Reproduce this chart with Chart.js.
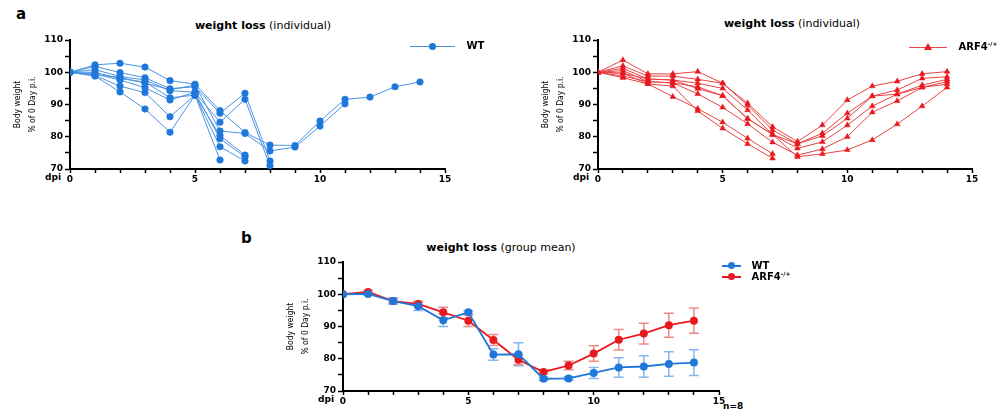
<!DOCTYPE html>
<html>
<head>
<meta charset="utf-8">
<script src="https://cdn.jsdelivr.net/npm/chart.js@4"></script>
<style>
  body { margin: 0; background: #fff; width: 1002px; height: 412px; position: relative; overflow: hidden; font-family: "DejaVu Sans", sans-serif; }
  .box { position: absolute; }
  .txt { position: absolute; white-space: nowrap; color: #000; }
  .title { font-size: 11px; transform: translateX(-50%); }
  .panel { font-size: 15px; font-weight: bold; }
  .small { font-size: 9px; font-weight: bold; }
  .leg { position: absolute; font-size: 10px; font-weight: bold; white-space: nowrap; }
  .leg sup { font-size: 6px; }
</style>
</head>
<body>
<div class="txt panel" style="left:16px;top:5px">a</div>
<div class="txt panel" style="left:241px;top:229px">b</div>

<div class="txt title" style="left:263px;top:19px"><b>weight loss</b> (individual)</div>
<div class="txt title" style="left:792px;top:17px"><b>weight loss</b> (individual)</div>
<div class="txt title" style="left:501px;top:241px"><b>weight loss</b> (group mean)</div>

<div class="txt small" style="left:45px;top:172px">dpi</div>
<div class="txt small" style="left:573px;top:172px">dpi</div>
<div class="txt small" style="left:318px;top:394px">dpi</div>
<div class="txt small" style="left:723px;top:401px">n=8</div>

<div class="box" style="left:0;top:30px;width:480px;height:164px"><canvas id="wtChart"></canvas></div>
<div class="box" style="left:528px;top:30px;width:472px;height:164px"><canvas id="arfChart"></canvas></div>
<div class="box" style="left:273px;top:252px;width:481px;height:164px"><canvas id="meanChart"></canvas></div>

<script>
const days = [0, 1, 2, 3, 4, 5, 6, 7, 8, 9, 10, 11, 12, 13, 14];
const xTickLabels = [0, 5, 10, 15];
const yTickLabels = [70, 80, 90, 100, 110];

// WT, each mouse (% of day 0 body weight), stops when the mouse was lost
const wtMouse1 = [100, 102.3, 102.8, 101.6, 97.4, 96.3, 88.1, 81.3, 77.4, 77.3, 84.9, 91.6, 92.3, 95.5, 97.0];
const wtMouse2 = [100, 101.8, 99.9, 98.3, 94.9, 95.5, 87.3, 93.5, 72.5];
const wtMouse3 = [100, 100.8, 98.7, 97.6, 94.3, 93.8, 84.5, 91.6, 71.0];
const wtMouse4 = [100, 100.0, 98.0, 97.0, 92.1, 92.9, 80.4, 74.3];
const wtMouse5 = [100, 99.5, 97.6, 95.2, 91.4, 93.8, 79.4, 73.8];
const wtMouse6 = [100, 99.0, 95.7, 93.7, 86.2, 92.9, 76.9, 72.5];
const wtMouse7 = [100, 98.8, 93.9, 88.6, 81.4, 92.9, 72.8];
const wtMouse8 = [100, 99.3, 98.4, 96.6, 94.6, 96.0, 81.8, 81.0, 75.6, 76.8, 83.3, 90.2];

// ARF4-/+, each mouse
const arfMouse1 = [100, 103.8, 99.5, 99.5, 100.2, 96.6, 90.4, 83.1, 78.5, 83.6, 91.4, 95.7, 97.2, 99.5, 100.2];
const arfMouse2 = [100, 102.0, 98.8, 98.8, 97.8, 96.6, 89.8, 82.1, 77.8, 81.1, 87.3, 92.6, 94.5, 98.1, 98.6];
const arfMouse3 = [100, 101.2, 97.9, 97.6, 96.6, 95.0, 88.3, 80.7, 77.8, 80.3, 85.7, 92.6, 93.2, 96.0, 97.8];
const arfMouse4 = [100, 100.5, 97.1, 96.7, 95.5, 92.7, 85.6, 80.7, 76.4, 78.4, 83.6, 89.5, 93.2, 95.3, 97.1];
const arfMouse5 = [100, 99.7, 96.4, 92.4, 88.7, 84.5, 79.5, 74.7];
const arfMouse6 = [100, 98.3, 96.4, 95.7, 88.0, 82.6, 77.8, 73.3];
const arfMouse7 = [100, 98.8, 97.1, 96.7, 93.3, 89.1, 84.0, 78.3, 74.3, 76.2, 80.0, 87.6, 91.1, 95.3, 96.3];
const arfMouse8 = [100, 99.7, 97.9, 97.6, 94.9, 92.7, 85.6, 80.7, 73.8, 74.7, 75.9, 79.0, 83.9, 89.5, 95.3];

// group mean +/- SEM
const wtMean = [100, 100.1, 97.9, 96.3, 91.9, 94.4, 81.3, 81.4, 73.8, 73.9, 75.6, 77.3, 77.6, 78.4, 78.8];
const wtSem = [0, 0.4, 1.0, 1.3, 1.9, 0.5, 1.8, 3.6, 0.5, 0.5, 1.7, 3.0, 3.3, 3.8, 4.0];
const arfMean = [100, 100.7, 97.9, 97.0, 94.4, 91.8, 85.8, 79.7, 75.9, 77.9, 81.6, 85.9, 87.8, 90.4, 91.8];
const arfSem = [0, 0.5, 0.6, 0.8, 1.6, 1.8, 1.7, 1.5, 0.5, 1.3, 2.4, 3.2, 3.2, 3.7, 3.9];

const BLUE = '#1f77d9';
const BLUE_LINE = '#4a93e4';
const RED = '#e8191e';
const RED_LINE = '#e94343';

function toPoints(vals) {
  return vals.map((v, i) => ({ x: days[i], y: v }));
}

const tickFont = { family: 'DejaVu Sans', size: 9, weight: 'bold' };

function makeScales() {
  return {
    x: {
      type: 'linear', min: 0, max: 15,
      afterBuildTicks: s => { s.ticks = days.concat([15]).map(v => ({ value: v })); },
      afterFit: s => { s.height = 25; },
      ticks: { autoSkip: false, maxRotation: 0, color: '#000', font: tickFont, padding: 1,
               callback: v => xTickLabels.includes(v) ? String(v) : '' },
      grid: { drawOnChartArea: false, drawTicks: true, tickLength: 4, tickWidth: 1.5, tickColor: '#000' },
      border: { display: true, color: '#000', width: 2 }
    },
    y: {
      min: 70, max: 110,
      afterBuildTicks: s => { s.ticks = [70, 75, 80, 85, 90, 95, 100, 105, 110].map(v => ({ value: v })); },
      afterFit: s => { s.width = 70; },
      ticks: { autoSkip: false, color: '#000', font: tickFont, padding: 2,
               callback: v => yTickLabels.includes(v) ? String(v) : '' },
      grid: { drawOnChartArea: false, drawTicks: true, tickLength: 5, tickWidth: 1.5, tickColor: '#000' },
      border: { display: true, color: '#000', width: 2 },
      title: { display: true, text: ['Body weight', '% of 0 Day p.i.'], color: '#000',
               font: { family: "'Liberation Sans Narrow', 'DejaVu Sans Condensed', sans-serif", size: 8.5, lineHeight: 1.7 },
               padding: { top: 11, bottom: 0 } }
    }
  };
}

function baseOptions() {
  return {
    responsive: true,
    maintainAspectRatio: false,
    animation: false,
    layout: { padding: { top: 10, right: 35, left: 0, bottom: 0 } },
    plugins: { legend: { display: false }, tooltip: { enabled: false } },
    scales: makeScales()
  };
}

function mouseSet(vals, color, line, style) {
  return {
    data: toPoints(vals),
    borderColor: line, borderWidth: 1,
    backgroundColor: color, pointBorderColor: color,
    pointStyle: style, pointRadius: 3.3, pointBorderWidth: 0.5,
    tension: 0
  };
}

// error bars drawn through the chart's own scales
const errorBars = {
  id: 'errorBars',
  beforeDatasetsDraw(chart) {
    const ctx = chart.ctx;
    const ys = chart.scales.y, xs = chart.scales.x;
    chart.data.datasets.forEach(ds => {
      if (!ds.sem) return;
      ctx.save();
      ctx.strokeStyle = ds.barColor;
      ctx.lineWidth = 1.5;
      ds.data.forEach((p, i) => {
        const e = ds.sem[i];
        if (!e) return;
        const x = xs.getPixelForValue(p.x);
        const yTop = ys.getPixelForValue(p.y + e);
        const yBot = ys.getPixelForValue(p.y - e);
        ctx.beginPath();
        ctx.moveTo(x, yTop); ctx.lineTo(x, yBot);
        ctx.moveTo(x - 5, yTop); ctx.lineTo(x + 5, yTop);
        ctx.moveTo(x - 5, yBot); ctx.lineTo(x + 5, yBot);
        ctx.stroke();
      });
      ctx.restore();
    });
  }
};

const wtMice = [wtMouse1, wtMouse2, wtMouse3, wtMouse4, wtMouse5, wtMouse6, wtMouse7, wtMouse8];
const arfMice = [arfMouse1, arfMouse2, arfMouse3, arfMouse4, arfMouse5, arfMouse6, arfMouse7, arfMouse8];

new Chart(document.getElementById('wtChart'), {
  type: 'line',
  data: { datasets: wtMice.map(m => mouseSet(m, BLUE, BLUE_LINE, 'circle')) },
  options: baseOptions()
});

const arfOpts = baseOptions();
arfOpts.layout.padding.right = 28;
new Chart(document.getElementById('arfChart'), {
  type: 'line',
  data: { datasets: arfMice.map(m => mouseSet(m, RED, RED_LINE, 'triangle')) },
  options: arfOpts
});

new Chart(document.getElementById('meanChart'), {
  type: 'line',
  data: {
    datasets: [
      { label: 'WT', data: toPoints(wtMean), sem: wtSem, barColor: '#86b6ec',
        borderColor: BLUE, backgroundColor: BLUE, borderWidth: 1.8, pointRadius: 4, pointBorderWidth: 0, tension: 0 },
      { label: 'ARF4-/+', data: toPoints(arfMean), sem: arfSem, barColor: '#f08a8a',
        borderColor: RED, backgroundColor: RED, borderWidth: 1.8, pointRadius: 4, pointBorderWidth: 0, tension: 0 }
    ]
  },
  options: baseOptions(),
  plugins: [errorBars]
});
</script>

<!-- legends (HTML so the superscript genotype stays real text) -->
<div class="leg" style="left:410px;top:40px">
  <span style="display:inline-block;width:45px;height:1px;background:#4a93e4;vertical-align:middle;position:relative">
    <span style="position:absolute;left:19px;top:-3px;width:7px;height:7px;border-radius:50%;background:#1f77d9"></span>
  </span>
  <span style="margin-left:8px">WT</span>
</div>
<div class="leg" style="left:909px;top:40px">
  <span style="display:inline-block;width:38px;height:1px;background:#e94343;vertical-align:middle;position:relative">
    <span style="position:absolute;left:15px;top:-4px;width:0;height:0;border-left:4px solid transparent;border-right:4px solid transparent;border-bottom:7px solid #e8191e"></span>
  </span>
  <span style="margin-left:8px">ARF4<sup>-/+</sup></span>
</div>
<div class="leg" style="left:722px;top:260px">
  <span style="display:inline-block;width:19px;height:2px;background:#1f77d9;vertical-align:middle;position:relative">
    <span style="position:absolute;left:6px;top:-3px;width:7px;height:7px;border-radius:50%;background:#1f77d9"></span>
  </span>
  <span style="margin-left:7px">WT</span>
</div>
<div class="leg" style="left:722px;top:270px">
  <span style="display:inline-block;width:19px;height:2px;background:#e8191e;vertical-align:middle;position:relative">
    <span style="position:absolute;left:6px;top:-3px;width:7px;height:7px;border-radius:50%;background:#e8191e"></span>
  </span>
  <span style="margin-left:7px">ARF4<sup>-/+</sup></span>
</div>
</body>
</html>
